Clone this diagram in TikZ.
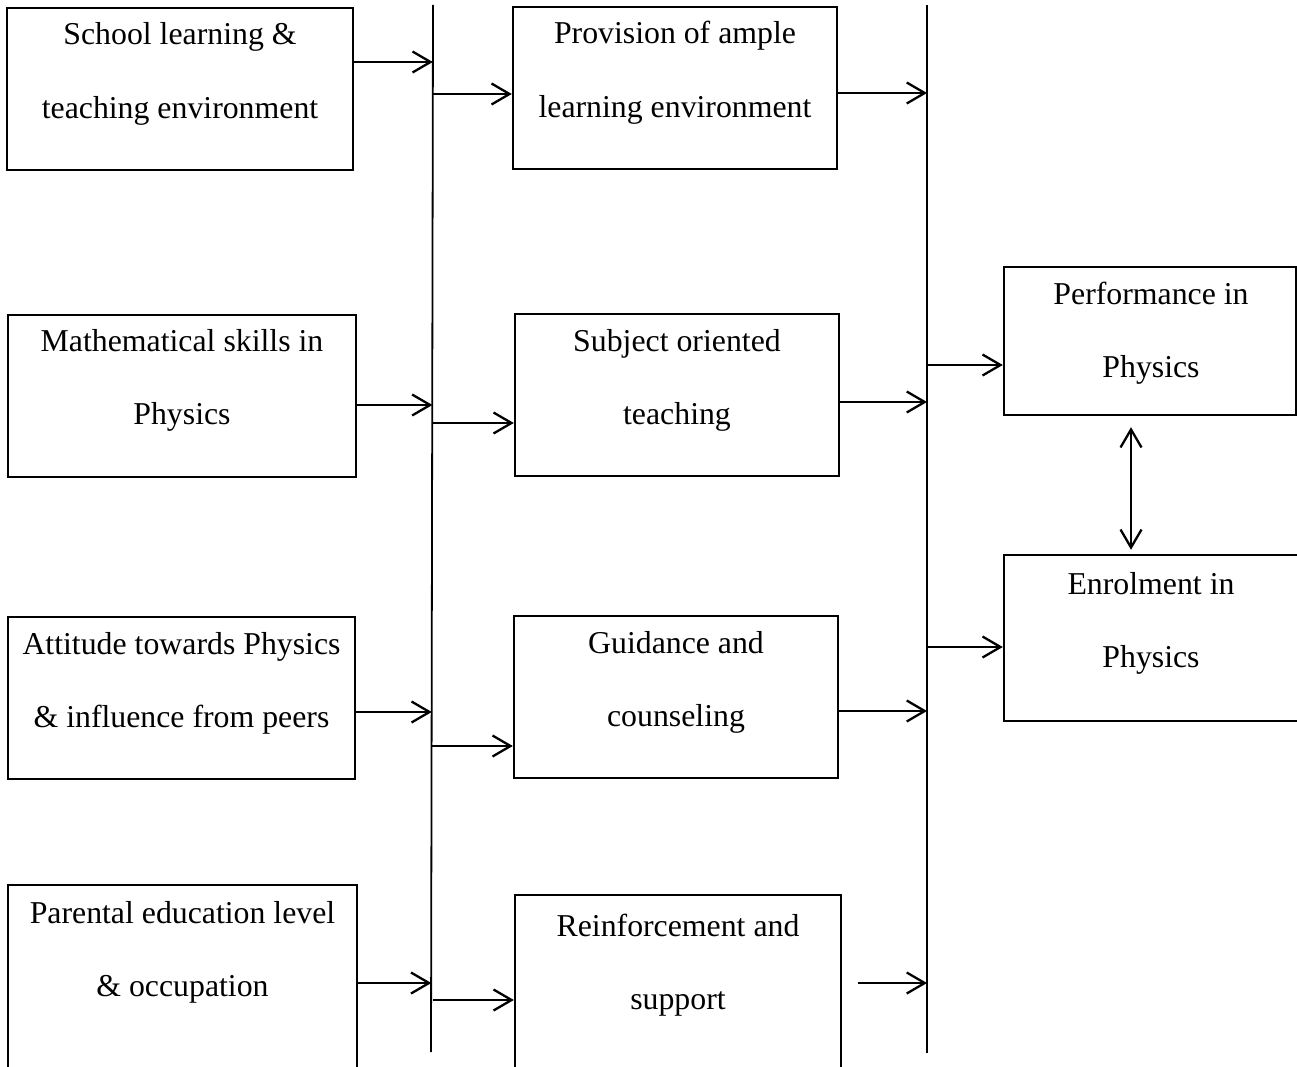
\documentclass[tikz,border=0pt]{standalone}
\usepackage{fontspec}
\setmainfont{Liberation Serif}
\usetikzlibrary{arrows.meta}
\newcommand{\twolns}[2]{\begin{tabular}[t]{@{}c@{}}#1\\#2\end{tabular}}
\tikzset{
  boxnode/.style={draw=black, line width=2.4pt, inner sep=0pt},
  txtnode/.style={anchor=base, inner sep=0pt, font=\fontsize{31.8}{73.5}\selectfont},
  vline/.style={line width=1.8pt},
  arr/.style={line width=2.3pt, -{Straight Barb[length=18pt,width=21pt,line width=2.3pt]}},
  darr/.style={line width=2.3pt, {Straight Barb[length=18pt,width=21pt,line width=2.3pt]}-{Straight Barb[length=18pt,width=21pt,line width=2.3pt]}}
}
\begin{document}
\begin{tikzpicture}[x=1pt,y=-1pt]
\clip (0,0) rectangle (1297,1067);
\fill[white] (0,0) rectangle (1297,1067);
% left boxes
\node[boxnode, minimum width=346, minimum height=162] (L1) at (180,89) {};
\node[boxnode, minimum width=348, minimum height=162] (L2) at (182,396) {};
\node[boxnode, minimum width=347, minimum height=162] (L3) at (181.5,698) {};
\node[boxnode, minimum width=349, minimum height=260] (L4) at (182.5,1015) {};
\node[txtnode] (tL1) at (180,45) {\twolns{School learning \&}{teaching environment}};
\node[txtnode] (tL2) at (182,351) {\twolns{Mathematical skills in}{Physics}};
\node[txtnode] (tL3) at (181.5,654) {\twolns{Attitude towards Physics}{\& influence from peers}};
\node[txtnode] (tL4) at (182.5,923) {\twolns{Parental education level}{\& occupation}};
% middle boxes
\node[boxnode, minimum width=324, minimum height=162] (M1) at (675,88) {};
\node[boxnode, minimum width=324, minimum height=162] (M2) at (677,395) {};
\node[boxnode, minimum width=324, minimum height=162] (M3) at (676,697) {};
\node[boxnode, minimum width=326, minimum height=260] (M4) at (678,1025) {};
\node[txtnode] (tM1) at (675,44) {\twolns{Provision of ample}{learning environment}};
\node[txtnode] (tM2) at (677,351) {\twolns{Subject oriented}{teaching}};
\node[txtnode] (tM3) at (676,653) {\twolns{Guidance and}{counseling}};
\node[txtnode] (tM4) at (678,936) {\twolns{Reinforcement and}{support}};
% right boxes
\node[boxnode, minimum width=292.5, minimum height=148] (R1) at (1150.25,341) {};
\node[boxnode, minimum width=310, minimum height=166] (R2) at (1159,638) {};
\node[txtnode] (tR1) at (1151,304) {\twolns{Performance in}{Physics}};
\node[txtnode] (tR2) at (1151,594) {\twolns{Enrolment in}{Physics}};
% vertical lines
\coordinate (V1t) at (433,5);
\coordinate (V1b) at (431,1052);
\coordinate (V2t) at (927,5);
\coordinate (V2b) at (927,1053);
\draw[vline] (V1t) -- (V1b);
\draw[vline] (V2t) -- (V2b);
% left -> line 1
\draw[arr] (L1.east |- 0,62) -- (432.8,62);
\draw[arr] (L2.east |- 0,405) -- (432.4,405);
\draw[arr] (L3.east |- 0,712) -- (431.8,712);
\draw[arr] (L4.east |- 0,983) -- (431.3,983);
% line 1 -> middle
\draw[arr] (432.8,94) -- (M1.west |- 0,94);
\draw[arr] (432.5,423) -- (M2.west |- 0,423);
\draw[arr] (432,746) -- (M3.west |- 0,746);
\draw[arr] (433,1000) -- (M4.west |- 0,1000);
% middle -> line 2
\draw[arr] (M1.east |- 0,93) -- (V2t |- 0,93);
\draw[arr] (M2.east |- 0,402) -- (V2t |- 0,402);
\draw[arr] (M3.east |- 0,711) -- (V2t |- 0,711);
\coordinate (M4out) at (858,983);
\draw[arr] (M4out) -- (V2t |- M4out);
% line 2 -> right
\draw[arr] (V2t |- 0,365) -- (R1.west |- 0,365);
\draw[arr] (V2t |- 0,647) -- (R2.west |- 0,647);
% double arrow
\draw[darr] ([yshift=-11]R1.south -| 1131,0) -- ([yshift=4]R2.north -| 1131,0);
\end{tikzpicture}
\end{document}
